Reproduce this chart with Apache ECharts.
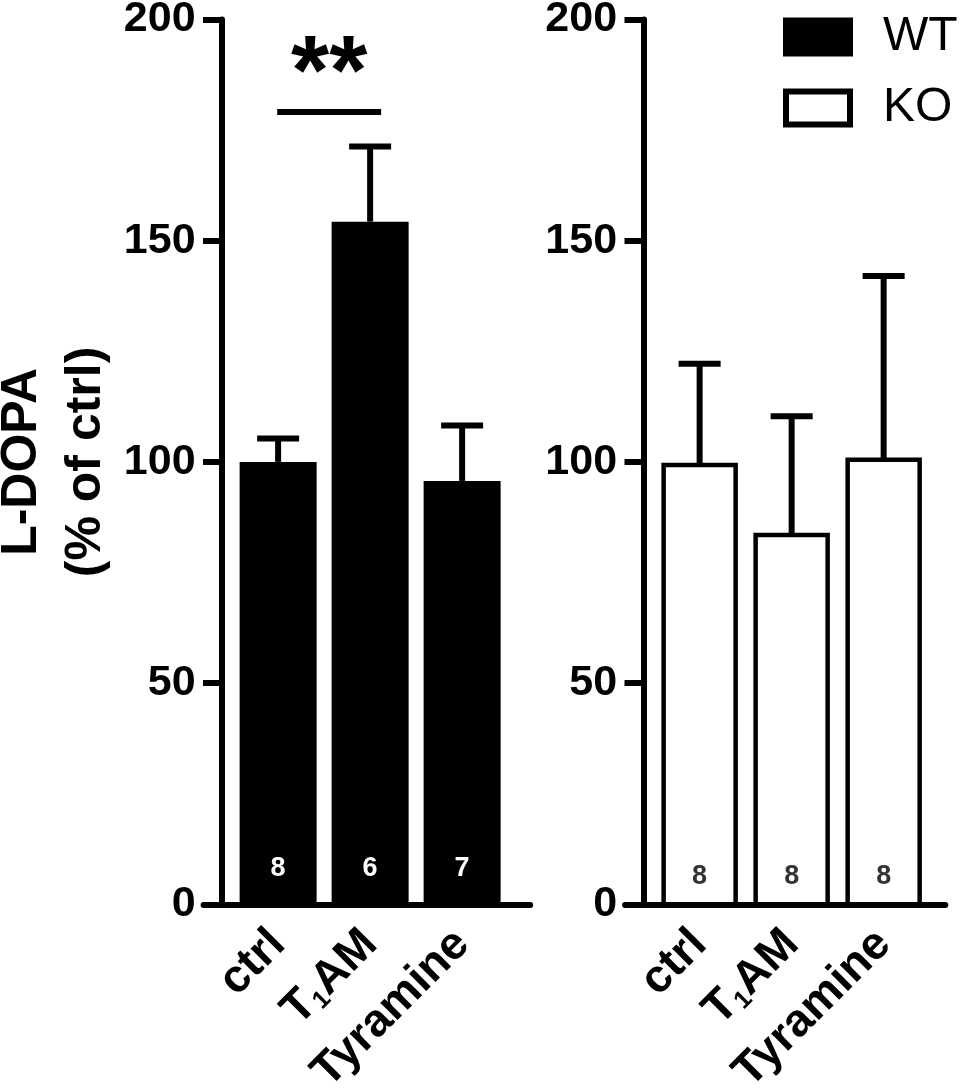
<!DOCTYPE html>
<html>
<head>
<meta charset="utf-8">
<script src="https://cdn.jsdelivr.net/npm/echarts@6/dist/echarts.min.js"></script>
<style>
html,body{margin:0;padding:0;background:#fff;}
#chart{width:969px;height:1089px;}
</style>
</head>
<body>
<div id="chart"></div>
<script>
// 组别与位置（x轴为数值轴，0 对应 y 轴）
var categories = ['ctrl', 'T1AM', 'Tyramine'];
var catPos = [0.61, 1.61, 2.61];

// WT 组：均值、SEM、样本数
var wtMean = [100, 154.3, 95.7];
var wtSem = [5.3, 17.0, 12.5];
var wtN = [8, 6, 7];

// KO 组：均值、SEM、样本数
var koMean = [99.3, 83.5, 100.5];
var koSem = [22.9, 26.8, 41.5];
var koN = [8, 8, 8];

// 显著性标记（ctrl vs T1AM）
var sigText = '**';
var sigY = 179.1;
var sigFrom = 0.6, sigTo = 1.73;

var FONT = 'Liberation Sans, Arial, sans-serif';

function groupData(mean, sem, n) {
    return mean.map(function (v, i) { return [catPos[i], v, sem[i], n[i]]; });
}

/**
 * 柱子 + 上误差线 + 柱内样本数
 */
function makeRender(barW, fill, border, textColor, textDist) {
    return function (params, api) {
        var x = api.value(0), m = api.value(1), e = api.value(2), n = api.value(3);
        var base = api.coord([x, 0]);
        var top = api.coord([x, m]);
        var errTop = api.coord([x, m + e]);
        var half = 21;
        var st = { stroke: '#000', lineWidth: 6 };
        return {
            type: 'group',
            children: [
                {
                    type: 'rect',
                    shape: { x: top[0] - barW / 2, y: top[1], width: barW, height: base[1] - top[1] },
                    style: { fill: fill, stroke: border ? '#000' : null, lineWidth: border },
                    textContent: {
                        style: {
                            text: String(n),
                            fill: textColor,
                            fontSize: 27,
                            fontWeight: 'bold',
                            fontFamily: FONT
                        }
                    },
                    textConfig: { position: 'insideBottom', distance: textDist }
                },
                { type: 'line', shape: { x1: top[0], y1: top[1], x2: errTop[0], y2: errTop[1] }, style: st },
                { type: 'line', shape: { x1: errTop[0] - half, y1: errTop[1], x2: errTop[0] + half, y2: errTop[1] }, style: st }
            ]
        };
    };
}

function catLabel(value) {
    for (var i = 0; i < catPos.length; i++) {
        if (Math.abs(catPos[i] - value) < 1e-6) {
            return categories[i] == 'T1AM' ? 'T{sub|1}AM' : categories[i];
        }
    }
    return '';
}

function xAxisOpt(idx, max) {
    return {
        type: 'value',
        gridIndex: idx,
        min: -0.2,
        max: max,
        axisLine: { show: true, onZero: false, lineStyle: { color: '#000', width: 6 } },
        axisTick: { show: false },
        splitLine: { show: false },
        axisLabel: {
            customValues: catPos,
            rotate: 45,
            margin: 33,
            color: '#000',
            fontSize: 46,
            fontWeight: 'bold',
            fontFamily: FONT,
            formatter: catLabel,
            rich: {
                sub: { fontSize: 25, fontWeight: 'bold', fontFamily: FONT, color: '#000', verticalAlign: 'bottom' }
            }
        }
    };
}

function yAxisOpt(idx) {
    var o = {
        type: 'value',
        gridIndex: idx,
        min: 0,
        max: 200,
        interval: 50,
        axisLine: { show: true, onZero: true, lineStyle: { color: '#000', width: 6 } },
        axisTick: { show: true, length: 19, lineStyle: { color: '#000', width: 6 } },
        splitLine: { show: false },
        axisLabel: { color: '#000', fontSize: 43, fontWeight: 'bold', fontFamily: FONT, margin: 8 }
    };
    if (idx == 0) {
        o.name = 'L-DOPA\n(% of ctrl)';
        o.nameLocation = 'middle';
        o.nameGap = 85;
        o.nameTextStyle = { color: '#000', fontSize: 50, fontWeight: 'bold', fontFamily: FONT, lineHeight: 64 };
    }
    return o;
}

var myChart = echarts.init(document.getElementById('chart'));
myChart.setOption({
    animation: false,
    backgroundColor: '#fff',
    legend: {
        orient: 'vertical',
        left: 778,
        top: 8,
        itemWidth: 64,
        itemHeight: 33,
        itemGap: 23,
        textStyle: { color: '#000', fontSize: 48, fontFamily: FONT, padding: [0, 0, 0, 28] },
        data: [
            { name: 'WT', icon: 'rect', itemStyle: { color: '#000', borderColor: '#000', borderWidth: 6 } },
            { name: 'KO', icon: 'rect', itemStyle: { color: '#fff', borderColor: '#000', borderWidth: 6 } }
        ]
    },
    grid: [
        { left: 203.6, top: 19.5, width: 326.6, height: 884.8, outerBoundsMode: 'none' },
        { left: 625.1, top: 19.5, width: 320.2, height: 884.8, outerBoundsMode: 'none' }
    ],
    xAxis: [xAxisOpt(0, 3.35), xAxisOpt(1, 3.28)],
    yAxis: [yAxisOpt(0), yAxisOpt(1)],
    series: [
        {
            name: 'WT',
            type: 'custom',
            xAxisIndex: 0,
            yAxisIndex: 0,
            itemStyle: { color: '#000' },
            renderItem: makeRender(77, '#000', 0, '#fff', 22),
            data: groupData(wtMean, wtSem, wtN),
            markLine: {
                silent: true,
                symbol: 'none',
                lineStyle: { color: '#000', width: 6, type: 'solid' },
                label: {
                    show: true,
                    position: 'middle',
                    distance: -14,
                    formatter: sigText,
                    color: '#000',
                    fontSize: 98,
                    fontWeight: 'bold',
                    fontFamily: FONT
                },
                data: [[{ coord: [sigFrom, sigY] }, { coord: [sigTo, sigY] }]]
            }
        },
        {
            name: 'KO',
            type: 'custom',
            xAxisIndex: 1,
            yAxisIndex: 1,
            itemStyle: { color: '#fff', borderColor: '#000' },
            renderItem: makeRender(72, '#fff', 4.5, '#333', 17),
            data: groupData(koMean, koSem, koN)
        }
    ]
});
</script>
</body>
</html>
